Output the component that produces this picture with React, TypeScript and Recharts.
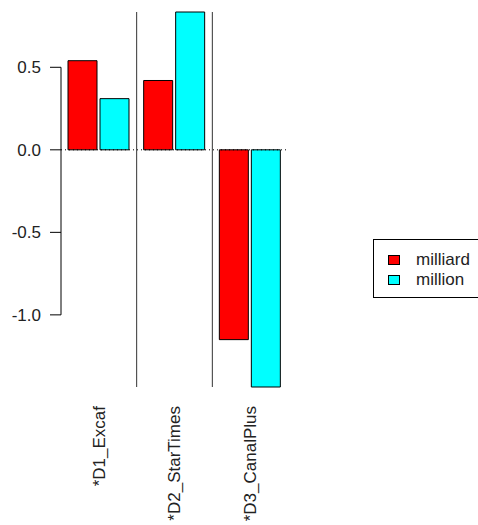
import React from 'react'
import { BarChart, Bar, XAxis, YAxis, ReferenceLine, Legend } from 'recharts'

const categories = ['*D1_Excaf', '*D2_StarTimes', '*D3_CanalPlus']
const milliard = [0.54, 0.42, -1.15]
const million = [0.31, 0.835, -1.437]
const yTicks = [0.5, 0, -0.5, -1]
// group boundaries, on a hidden position axis (0..3)
const separators = [1, 2]

const series = [
  { key: 'milliard', color: '#FF0000' },
  { key: 'million', color: '#00FFFF' },
]

const data = categories.map((name, i) => ({ name, pos: i + 0.5, milliard: milliard[i], million: million[i] }))

const police = 'Arial, "Liberation Sans", sans-serif'

function EtiquetteX(props: any) {
  const { x, y, payload } = props
  return (
    <text
      x={x}
      y={y}
      transform={`rotate(-90 ${x} ${y})`}
      textAnchor="end"
      dx={-11}
      dy="0.35em"
      fill="#222"
      fontSize={17}
      fontFamily={police}
    >
      {payload.value}
    </text>
  )
}

function BoiteLegende() {
  return (
    <div style={{
      border: '1px solid #000',
      background: '#fff',
      width: 130,
      padding: '10px 0 7px 0',
      fontFamily: police,
      fontSize: 17,
      color: '#222',
    }}>
      {series.map(s => (
        <div key={s.key} style={{ display: 'flex', alignItems: 'center', height: 20 }}>
          <div style={{ width: 10, height: 8, marginLeft: 14, border: '1px solid #000', backgroundColor: s.color }} />
          <span style={{ marginLeft: 16, lineHeight: '20px' }}>{s.key}</span>
        </div>
      ))}
    </div>
  )
}

export default function App() {
  return (
    <div style={{ width: 478, height: 525, overflow: 'hidden', position: 'relative', background: '#fff' }}>
      <style>{'body{margin:0}'}</style>
      <BarChart
        width={478}
        height={525}
        data={data}
        margin={{ top: 12, right: 190, bottom: 0, left: 0 }}
        barGap={3}
      >
        <XAxis dataKey="name" axisLine={false} tickLine={false} height={138} interval={0} tick={<EtiquetteX />} />
        <XAxis xAxisId="pos" dataKey="pos" type="number" domain={[0, categories.length]} hide />
        <YAxis
          domain={['dataMin', 'dataMax']}
          ticks={yTicks}
          interval={0}
          tickFormatter={(v: number) => v.toFixed(1)}
          axisLine={false}
          tickSize={11}
          tickMargin={9}
          width={61}
          tick={{ fill: '#222', fontSize: 17, fontFamily: police }}
          tickLine={{ stroke: '#000' }}
        />
        <ReferenceLine y={0} stroke="#000" strokeDasharray="1 3" />
        {series.map(s => (
          <Bar key={s.key} dataKey={s.key} fill={s.color} stroke="#000" strokeWidth={1} barSize={29} isAnimationActive={false} />
        ))}
        {separators.map(v => (
          <ReferenceLine key={v} xAxisId="pos" x={v} stroke="#333" />
        ))}
        <ReferenceLine
          xAxisId="pos"
          segment={[{ x: 0, y: yTicks[0] }, { x: 0, y: yTicks[yTicks.length - 1] }]}
          stroke="#000"
          ifOverflow="visible"
        />
        <Legend
          layout="horizontal"
          verticalAlign="middle"
          align="center"
          content={() => <BoiteLegende />}
          wrapperStyle={{ left: 373, top: 239, width: 140, height: 'auto' }}
        />
      </BarChart>
    </div>
  )
}
